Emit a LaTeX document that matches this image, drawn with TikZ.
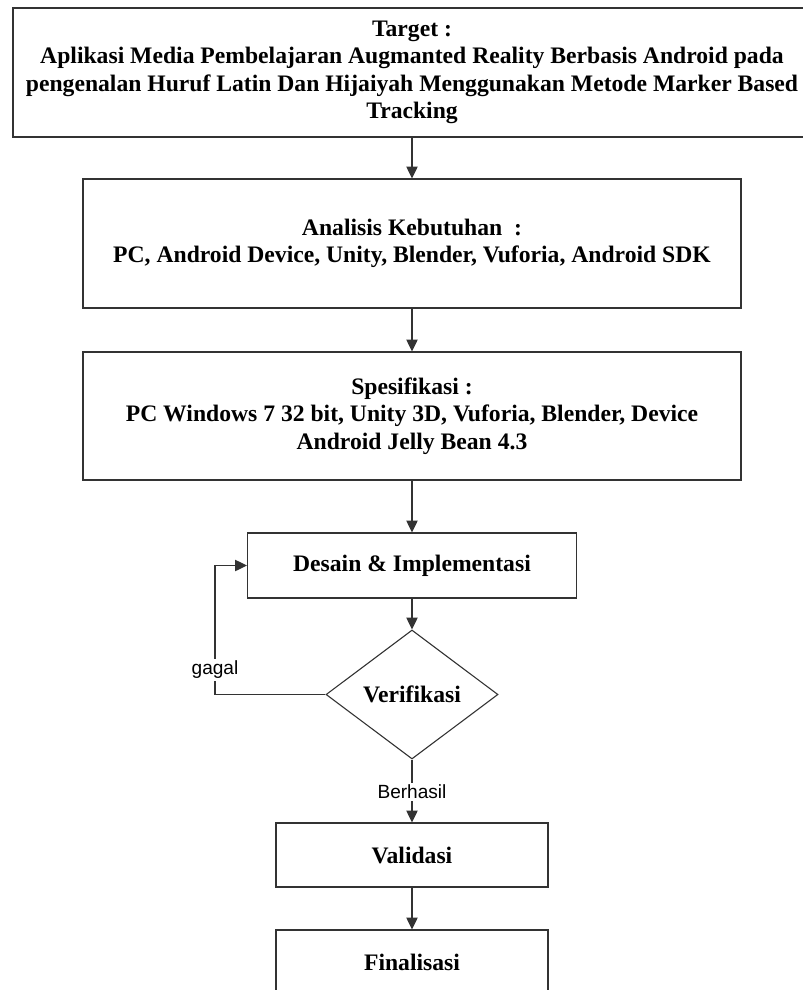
\documentclass[tikz,border=0pt]{standalone}
\usepackage{fontspec}
\setmainfont{Liberation Serif}
\newfontfamily\labelfont{Liberation Sans}
\usetikzlibrary{shapes.geometric,arrows.meta}
\begin{document}
\begin{tikzpicture}[x=0.55pt,y=-0.55pt,
  line width=0.6pt,
  boxstyle/.style={draw=black!80, rectangle, align=center, inner sep=0pt,
    font=\fontsize{13pt}{15pt}\selectfont\bfseries},
  decision/.style={draw=black!80, diamond, aspect=1.33, inner sep=0pt,
    minimum width=94.6pt, minimum height=70.95pt,
    font=\fontsize{13pt}{15pt}\selectfont\bfseries},
  arr/.style={draw=black!80, -{Triangle[length=6.5pt,width=6.2pt]}},
  lbl/.style={fill=white, inner sep=1pt, font=\labelfont\fontsize{10.5pt}{12pt}\selectfont}
]
\clip (0,0) rectangle (803,990);
\fill[white] (0,0) rectangle (803,990);

\node[boxstyle, minimum width=438.9pt, minimum height=70.95pt] (target) at (412,72.5)
  {Target :\\Aplikasi Media Pembelajaran Augmanted Reality Berbasis Android pada\\pengenalan Huruf Latin Dan Hijaiyah Menggunakan Metode Marker Based\\Tracking};

\node[boxstyle, minimum width=361.9pt, minimum height=70.95pt] (analisis) at (412,243.5)
  {Analisis Kebutuhan\ \ :\\PC, Android Device, Unity, Blender, Vuforia, Android SDK};

\node[boxstyle, minimum width=361.9pt, minimum height=70.4pt] (spek) at (412,416)
  {Spesifikasi :\\PC Windows 7 32 bit, Unity 3D, Vuforia, Blender, Device\\Android Jelly Bean 4.3};

\node[boxstyle, minimum width=180.95pt, minimum height=35.75pt] (desain) at (412,565.5)
  {Desain \& Implementasi};

\node[decision] (verif) at (412,694.5) {Verifikasi};

\node[boxstyle, minimum width=149.6pt, minimum height=35.2pt] (valid) at (412,855)
  {Validasi};

\node[boxstyle, minimum width=149.6pt, minimum height=35.2pt] (final) at (412,962)
  {Finalisasi};

\draw[arr] (target) -- (analisis);
\draw[arr] (analisis) -- (spek);
\draw[arr] (spek) -- (desain);
\draw[arr] (desain) -- (verif);
\draw[arr] (verif) -- (valid);
\draw[arr] (valid) -- (final);

\coordinate (loop) at (215,694.5);
\draw[arr] (verif.west) -- (loop) |- (desain.west);

\node[lbl] (gagal) at (215,670) {gagal};
\node[lbl] (berhasil) at (412,792) {Berhasil};
\end{tikzpicture}
\end{document}
